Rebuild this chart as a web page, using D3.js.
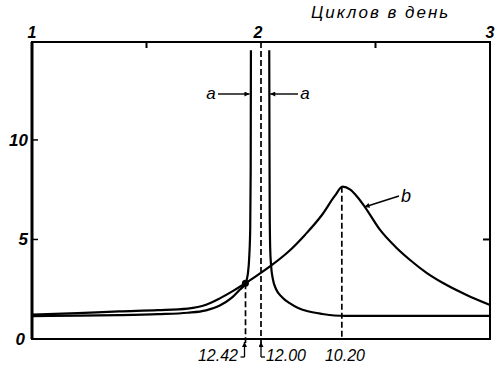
<!DOCTYPE html>
<html>
<head>
<meta charset="utf-8">
<script src="https://cdn.jsdelivr.net/npm/d3@7/dist/d3.min.js"></script>
<style>
body { margin: 0; background: #fff; }
text { font-family: "Liberation Sans", "DejaVu Sans", sans-serif; font-style: italic; fill: #000; }
</style>
</head>
<body>
<svg id="chart" width="496" height="365"></svg>
<script>
// cycles per day on the top axis, height on the left axis
var topTicks = [1, 2, 3];
var topMinor = [1.5, 2.5];
var leftTicks = [0, 5, 10];
var leftMinor = [5, 10];
var periodLabels = ["12.42", "12.00", "10.20"];

// curve a, left branch  [cycles/day, value]
var curveALeft = [
  [1.00, 1.15], [1.20, 1.17], [1.38, 1.20], [1.55, 1.25], [1.68, 1.32],
  [1.76, 1.44], [1.82, 1.68], [1.87, 2.05], [1.905, 2.45], [1.932, 2.80],
  [1.943, 3.30], [1.949, 4.20], [1.953, 5.60], [1.955, 8.50], [1.956, 14.5]
];
// curve a, right branch
var curveARight = [
  [2.036, 14.5], [2.037, 10.0], [2.038, 6.5], [2.040, 4.6], [2.044, 3.7],
  [2.052, 3.0], [2.066, 2.50], [2.092, 2.10], [2.125, 1.80], [2.162, 1.56],
  [2.21, 1.38], [2.266, 1.26], [2.32, 1.18], [2.37, 1.16], [3.00, 1.16]
];
// curve b
var curveB = [
  [1.00, 1.22], [1.20, 1.30], [1.38, 1.39], [1.55, 1.45], [1.68, 1.53],
  [1.76, 1.72], [1.82, 2.04], [1.88, 2.43], [1.932, 2.80], [1.974, 3.12],
  [2.048, 3.72], [2.118, 4.37], [2.192, 5.23], [2.266, 6.23], [2.323, 7.20],
  [2.356, 7.65], [2.39, 7.50], [2.42, 7.15], [2.454, 6.63], [2.52, 5.48],
  [2.59, 4.60], [2.651, 3.97], [2.72, 3.35], [2.795, 2.81], [2.90, 2.20], [3.00, 1.71]
];
var circlePoint = [1.932, 2.80];
var peakB = [2.356, 7.65];

var svg = d3.select("#chart");
var x = d3.scaleLinear().domain([1, 3]).range([32, 490]);
var y = d3.scaleLinear().domain([0, 14.92]).range([339, 42]);

// arrowhead marker
svg.append("defs").append("marker")
  .attr("id", "arr")
  .attr("viewBox", "0 0 10 10")
  .attr("refX", 10).attr("refY", 5)
  .attr("markerWidth", 7).attr("markerHeight", 5)
  .attr("markerUnits", "userSpaceOnUse")
  .attr("orient", "auto")
  .append("path").attr("d", "M0,0 L10,5 L0,10 z").attr("fill", "#000");

// frame
svg.append("rect")
  .attr("x", x(1)).attr("y", y(14.92))
  .attr("width", x(3) - x(1)).attr("height", y(0) - y(14.92))
  .attr("fill", "none").attr("stroke", "#000").attr("stroke-width", 2);
svg.append("line")
  .attr("x1", x(1)).attr("x2", x(1)).attr("y1", y(14.92)).attr("y2", y(0))
  .attr("stroke", "#000").attr("stroke-width", 3);

// ticks
svg.selectAll(".tmin").data(topMinor).enter().append("line")
  .attr("x1", d => x(d)).attr("x2", d => x(d))
  .attr("y1", y(14.92)).attr("y2", y(14.92) + 6)
  .attr("stroke", "#000").attr("stroke-width", 2);
svg.selectAll(".lmin").data(leftMinor).enter().append("line")
  .attr("x1", x(1)).attr("x2", x(1) + 6)
  .attr("y1", d => y(d)).attr("y2", d => y(d))
  .attr("stroke", "#000").attr("stroke-width", 1.5);
svg.append("line")
  .attr("x1", x(3)).attr("x2", x(3) - 7)
  .attr("y1", y(5)).attr("y2", y(5))
  .attr("stroke", "#000").attr("stroke-width", 2);

// tick labels
svg.selectAll(".tl").data(topTicks).enter().append("text")
  .attr("x", d => x(d) - (d === 2 ? 3 : 0)).attr("y", 38)
  .attr("text-anchor", "middle")
  .style("font-size", "16px").style("font-weight", "bold")
  .text(d => d);
svg.selectAll(".ll").data(leftTicks).enter().append("text")
  .attr("x", d => d === 0 ? 25 : 28).attr("y", d => y(d) + 6)
  .attr("text-anchor", "end")
  .style("font-size", "17px").style("font-weight", "bold")
  .text(d => d);

svg.append("text")
  .attr("x", 311).attr("y", 18)
  .style("font-size", "17px").style("letter-spacing", "2px")
  .text("Циклов в день");

// curves
var line = d3.line().x(d => x(d[0])).y(d => y(d[1])).curve(d3.curveMonotoneX);
[curveALeft, curveARight, curveB].forEach(function (c) {
  svg.append("path").datum(c).attr("d", line)
    .attr("fill", "none").attr("stroke", "#000").attr("stroke-width", 2.2);
});

// dashed verticals
var fr = periodLabels.map(p => 24 / parseFloat(p));
var dashTops = [y(circlePoint[1]), y(14.92), y(peakB[1])];
svg.selectAll(".dash").data(fr).enter().append("line")
  .attr("x1", d => x(d)).attr("x2", d => x(d))
  .attr("y1", (d, i) => dashTops[i]).attr("y2", (d, i) => i === 2 ? y(0) : 343)
  .attr("stroke", "#000").attr("stroke-width", 1.7)
  .attr("stroke-dasharray", "6,3");

svg.append("circle")
  .attr("cx", x(circlePoint[0])).attr("cy", y(circlePoint[1]))
  .attr("r", 3.5).attr("fill", "#000");

// leader marks under the axis for 12.42 and 12.00
[0, 1].forEach(function (i) {
  var px = x(fr[i]) - (i === 0 ? 1 : 0);
  var dir = i === 0 ? -1 : 1;
  svg.append("line")
    .attr("x1", px).attr("x2", px).attr("y1", 357).attr("y2", 342)
    .attr("stroke", "#000").attr("stroke-width", 1.3)
    .attr("marker-end", "url(#arr)");
  svg.append("line")
    .attr("x1", px).attr("x2", px + dir * 4).attr("y1", 357).attr("y2", 357)
    .attr("stroke", "#000").attr("stroke-width", 1.3);
});

// bottom period labels
var labX = [218, 286, 345];
svg.selectAll(".pl").data(periodLabels).enter().append("text")
  .attr("x", (d, i) => labX[i]).attr("y", 361)
  .attr("text-anchor", "middle")
  .style("font-size", "16px")
  .text(d => d);

// a labels and arrows
svg.append("text").attr("x", 211).attr("y", 99).attr("text-anchor", "middle")
  .style("font-size", "17px").text("a");
svg.append("line").attr("x1", 218).attr("y1", 94).attr("x2", x(1.954) - 1).attr("y2", 94)
  .attr("stroke", "#000").attr("stroke-width", 1.4).attr("marker-end", "url(#arr)");
svg.append("text").attr("x", 305).attr("y", 99).attr("text-anchor", "middle")
  .style("font-size", "17px").text("a");
svg.append("line").attr("x1", 298).attr("y1", 94).attr("x2", x(2.036) + 1).attr("y2", 94)
  .attr("stroke", "#000").attr("stroke-width", 1.4).attr("marker-end", "url(#arr)");

// b label and arrow
svg.append("text").attr("x", 406).attr("y", 202).attr("text-anchor", "middle")
  .style("font-size", "18px").text("b");
svg.append("line").attr("x1", 399).attr("y1", 196).attr("x2", x(2.452)).attr("y2", 207)
  .attr("stroke", "#000").attr("stroke-width", 1.4).attr("marker-end", "url(#arr)");
</script>
</body>
</html>
